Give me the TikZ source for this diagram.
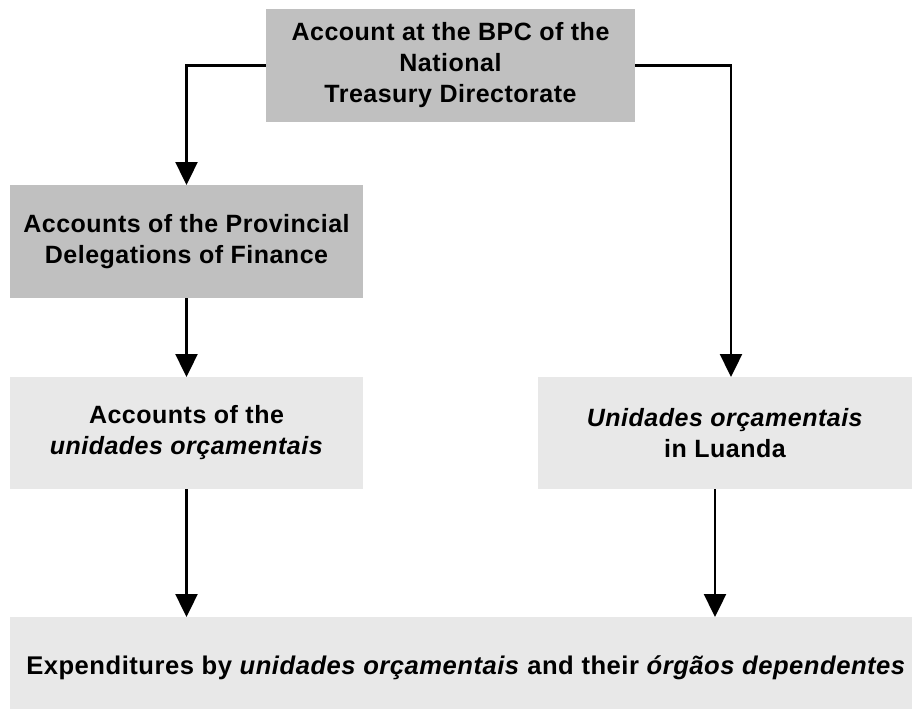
\documentclass[tikz,border=0pt]{standalone}
\usepackage{fontspec}
\setmainfont{Liberation Sans}[LetterSpace=2]
\usetikzlibrary{arrows.meta}
\definecolor{boxdark}{HTML}{C0C0C0}
\definecolor{boxlight}{HTML}{E8E8E8}
\tikzset{
  box/.style={inner sep=0pt, outer sep=0pt, align=center, text=black,
    font=\fontsize{25}{31}\selectfont\bfseries},
  darkbox/.style={box, fill=boxdark},
  lightbox/.style={box, fill=boxlight},
  conn/.style={line width=2.4pt, -{Triangle[width=22pt,length=23pt]}},
}
\begin{document}
\begin{tikzpicture}[x=1pt,y=-1pt]
\useasboundingbox (0,0) rectangle (912,709);

\node[darkbox, minimum width=369pt, minimum height=113pt] (treasury) at (450.5,65.5)
  {Account at the BPC of the\\National\\Treasury Directorate};
\node[darkbox, minimum width=353pt, minimum height=113pt] (delegations) at (186.5,241.5)
  {Accounts of the Provincial\\Delegations of Finance};
\node[lightbox, minimum width=353pt, minimum height=112pt] (units) at (186.5,433)
  {Accounts of the\\\textit{unidades orçamentais}};
\node[lightbox, minimum width=374pt, minimum height=112pt] (luanda) at (725,433)
  {\textit{Unidades orçamentais}\\in Luanda};
\node[lightbox, minimum width=902pt, minimum height=92pt] (spending) at (461,663) {};
\node[box, font=\fontsize{25.6}{31}\selectfont\bfseries] (spendingtext) at (466,668)
  {Expenditures by \textit{unidades orçamentais} and their \textit{órgãos dependentes}};

\coordinate (luandain) at ([xshift=6pt]luanda.north);
\coordinate (luandaout) at ([xshift=-10pt]luanda.south);

\draw[conn] (treasury.west) -| (delegations.north);
\draw[conn] (treasury.east) -| (luandain);
\draw[conn] (delegations.south) -- (units.north);
\draw[conn] (units.south) -- (units.south |- spending.north);
\draw[conn] (luandaout) -- (luandaout |- spending.north);
\end{tikzpicture}
\end{document}
